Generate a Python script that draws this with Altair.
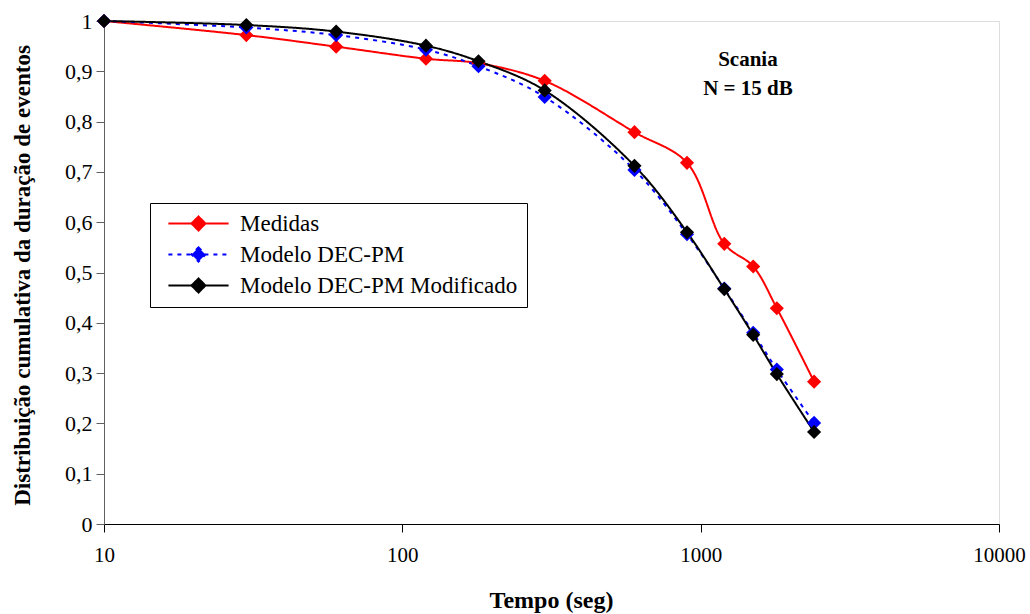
import altair as alt
import pandas as pd

tempo = [10, 30, 60, 120, 180, 300, 600, 900, 1200, 1500, 1800, 2400]
medidas = [1.000, 0.972, 0.949, 0.925, 0.916, 0.881, 0.779, 0.718, 0.557, 0.512, 0.429, 0.283]
dec_pm = [1.000, 0.987, 0.972, 0.943, 0.910, 0.849, 0.704, 0.576, 0.468, 0.380, 0.307, 0.201]
dec_pm_mod = [1.000, 0.992, 0.979, 0.951, 0.920, 0.862, 0.712, 0.580, 0.467, 0.376, 0.298, 0.183]

series_names = ["Medidas", "Modelo DEC-PM", "Modelo DEC-PM Modificado"]
series_colors = ["#FF0000", "#0000FF", "#000000"]
series_dash = [[1, 0], [4, 5], [1, 0]]

x_ticks = [10, 100, 1000, 10000]
y_ticks = [0, 0.1, 0.2, 0.3, 0.4, 0.5, 0.6, 0.7, 0.8, 0.9, 1.0]

ann_text = ["Scania", "N = 15 dB"]
ann_x = [1440, 1440]
ann_y = [0.922, 0.864]

rows = []
for name, vals in zip(series_names, [medidas, dec_pm, dec_pm_mod]):
    for t, v in zip(tempo, vals):
        rows.append({"Tempo": t, "Valor": v, "Serie": name})
df = pd.DataFrame(rows)
ann = pd.DataFrame({"x": ann_x, "y": ann_y, "t": ann_text})

FONT = "Liberation Serif"

x_enc = alt.X(
    "Tempo:Q",
    scale=alt.Scale(type="log", domain=[10, 10000], nice=False),
    axis=alt.Axis(
        values=x_ticks, format="d", title="Tempo (seg)", grid=False,
        domainColor="#000000", tickColor="#000000", tickSize=8,
        labelFont=FONT, labelFontSize=21, labelColor="#000000", labelPadding=12,
        labelFlush=False, labelOverlap=False,
        titleFont=FONT, titleFontSize=24, titleFontWeight="bold", titleColor="#000000",
        titleX=447, titleY=76, titleBaseline="middle",
    ),
)
y_enc = alt.Y(
    "Valor:Q",
    scale=alt.Scale(domain=[0, 1], nice=False, zero=True),
    axis=alt.Axis(
        values=y_ticks, grid=False,
        labelExpr="datum.value == 0 ? '0' : datum.value == 1 ? '1' : replace(format(datum.value, '.1f'), '.', ',')",
        title="Distribuição cumulativa da duração de eventos",
        domainColor="#606060", tickColor="#606060", tickSize=8,
        labelFont=FONT, labelFontSize=22, labelColor="#000000", labelPadding=4,
        labelFlush=False, labelOverlap=False,
        titleFont=FONT, titleFontSize=23, titleFontWeight="bold", titleColor="#000000",
        titleX=-82, titleY=254, titleBaseline="middle", titleAngle=-90,
    ),
)

color_scale = alt.Scale(domain=series_names, range=series_colors)
dash_scale = alt.Scale(domain=series_names, range=series_dash)

legend = alt.Legend(
    title=None, orient="none", legendX=46, legendY=182,
    strokeColor="#000000", fillColor="#FFFFFF", padding=9,
    symbolType="M-4.3,0L4.3,0M0,-1L1,0L0,1L-1,0Z",
    symbolSize=196, symbolStrokeWidth=2, symbolOffset=28,
    labelFont=FONT, labelFontSize=23, labelColor="#000000", labelOffset=30,
    labelLimit=500, rowPadding=7,
)

lines = alt.Chart(df).mark_line(interpolate="catmull-rom", strokeWidth=2).encode(
    x=x_enc, y=y_enc,
    color=alt.Color("Serie:N", scale=color_scale, legend=legend),
    strokeDash=alt.StrokeDash("Serie:N", scale=dash_scale, legend=legend),
)

points = alt.Chart(df).mark_point(shape="diamond", filled=True, size=200, opacity=1).encode(
    x=x_enc, y=y_enc,
    color=alt.Color("Serie:N", scale=color_scale, legend=legend),
)

text = alt.Chart(ann).mark_text(font=FONT, fontSize=21, fontWeight="bold", color="#000000").encode(
    x=alt.X("x:Q"), y=alt.Y("y:Q"), text="t:N"
)

chart = alt.layer(lines, points, text).properties(
    width=895, height=503,
    autosize=alt.AutoSizeParams(type="none"),
    padding={"left": 104, "top": 21, "right": 31, "bottom": 90},
).configure_view(stroke=None).configure(
    background="#FFFFFF", font=FONT
).configure_legend(labelFont=FONT, labelFontSize=23)

chart.save("out.html", embed_options={"renderer": "svg", "actions": False})
